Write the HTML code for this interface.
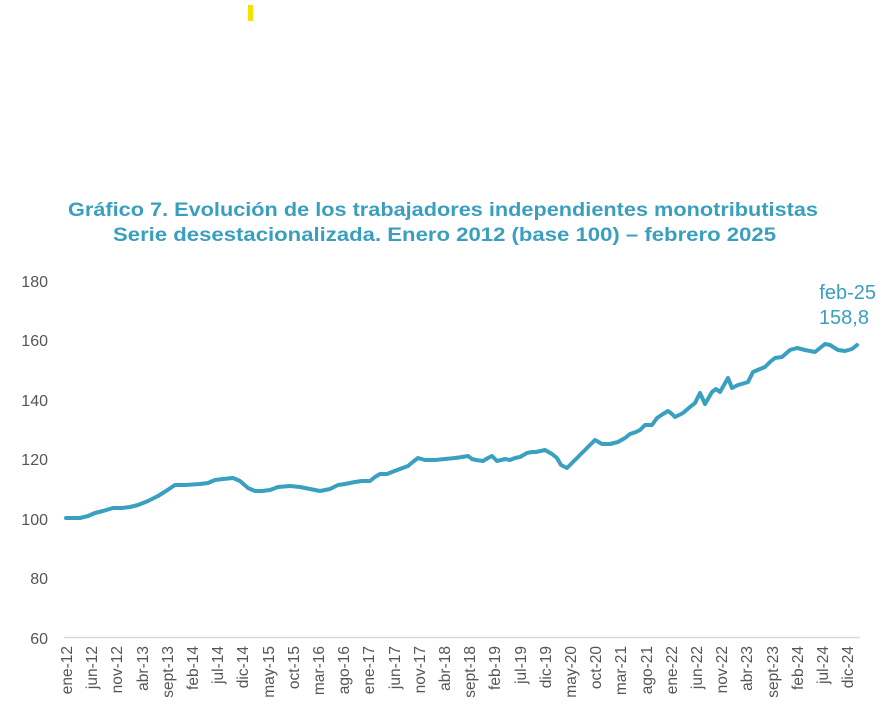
<!DOCTYPE html>
<html><head><meta charset="utf-8"><style>
html,body{margin:0;padding:0;background:#fff;}
svg{display:block;font-family:"Liberation Sans",sans-serif;}
</style></head><body>
<svg width="885" height="720" viewBox="0 0 885 720">
<rect x="248" y="5" width="5" height="16" fill="#f5e100"/>
<g fill="#3a9fbf" font-weight="bold" font-size="19">
<text x="68" y="216" textLength="750" lengthAdjust="spacingAndGlyphs">Gráfico 7. Evolución de los trabajadores independientes monotributistas</text>
<text x="113" y="241" textLength="663" lengthAdjust="spacingAndGlyphs">Serie desestacionalizada. Enero 2012 (base 100) – febrero 2025</text>
</g>
<g fill="#555" font-size="16" text-anchor="end">
<text x="48" y="287">180</text>
<text x="48" y="346">160</text>
<text x="48" y="406">140</text>
<text x="48" y="465">120</text>
<text x="48" y="525">100</text>
<text x="48" y="584">80</text>
<text x="48" y="644">60</text>
</g>
<line x1="64" y1="637.5" x2="860" y2="637.5" stroke="#d9d9d9" stroke-width="1.5"/>
<polyline fill="none" stroke="#3aa0bf" stroke-width="4" stroke-linejoin="round" stroke-linecap="round" points="66,518 80,518 88,516 95,513 103,511 113,508 122,508 130,507 138,505 148,501 158,496 166,491 175,485 185,485 200,484 208,483 215,480 223,479 233,478 240,481 248,488 255,491 262,491 270,490 278,487 290,486 300,487 310,489 320,491 330,489 338,485 345,484 355,482 362,481 370,481 375,477 380,474 387,474 392,472 400,469 408,466 414,461 418,458 425,460 435,460 445,459 455,458 462,457 468,456 472,459 476,460 483,461 488,458 492,456 497,461 505,459 510,460 515,458 520,457 527,453 532,452 536,452 545,450 552,454 557,458 561,465 567,468 574,461 582,453 590,445 595,440 602,444 610,444 618,442 625,438 630,434 636,432 640,430 645,425 652,425 657,418 663,414 668,411 672,414 675,417 683,413 690,407 695,403 700,393 705,404 712,392 716,389 720,392 728,378 732,388 738,385 745,383 748,382 753,372 760,369 765,367 770,362 775,358 782,357 790,350 797,348 805,350 815,352 825,344 830,345 838,350 845,351 852,349 857,345"/>
<g fill="#3a9fbf" font-size="20" text-anchor="end">
<text x="876" y="299">feb-25</text>
<text x="869" y="324">158,8</text>
</g>
<g fill="#555" font-size="15.5" text-anchor="end">
<text transform="translate(72,646) rotate(-90)">ene-12</text>
<text transform="translate(97,646) rotate(-90)">jun-12</text>
<text transform="translate(122,646) rotate(-90)">nov-12</text>
<text transform="translate(148,646) rotate(-90)">abr-13</text>
<text transform="translate(173,646) rotate(-90)">sept-13</text>
<text transform="translate(198,646) rotate(-90)">feb-14</text>
<text transform="translate(223,646) rotate(-90)">jul-14</text>
<text transform="translate(248,646) rotate(-90)">dic-14</text>
<text transform="translate(274,646) rotate(-90)">may-15</text>
<text transform="translate(299,646) rotate(-90)">oct-15</text>
<text transform="translate(324,646) rotate(-90)">mar-16</text>
<text transform="translate(349,646) rotate(-90)">ago-16</text>
<text transform="translate(374,646) rotate(-90)">ene-17</text>
<text transform="translate(400,646) rotate(-90)">jun-17</text>
<text transform="translate(425,646) rotate(-90)">nov-17</text>
<text transform="translate(450,646) rotate(-90)">abr-18</text>
<text transform="translate(475,646) rotate(-90)">sept-18</text>
<text transform="translate(500,646) rotate(-90)">feb-19</text>
<text transform="translate(526,646) rotate(-90)">jul-19</text>
<text transform="translate(551,646) rotate(-90)">dic-19</text>
<text transform="translate(576,646) rotate(-90)">may-20</text>
<text transform="translate(601,646) rotate(-90)">oct-20</text>
<text transform="translate(626,646) rotate(-90)">mar-21</text>
<text transform="translate(652,646) rotate(-90)">ago-21</text>
<text transform="translate(677,646) rotate(-90)">ene-22</text>
<text transform="translate(702,646) rotate(-90)">jun-22</text>
<text transform="translate(727,646) rotate(-90)">nov-22</text>
<text transform="translate(752,646) rotate(-90)">abr-23</text>
<text transform="translate(778,646) rotate(-90)">sept-23</text>
<text transform="translate(803,646) rotate(-90)">feb-24</text>
<text transform="translate(828,646) rotate(-90)">jul-24</text>
<text transform="translate(853,646) rotate(-90)">dic-24</text>
</g>
</svg>
</body></html>
